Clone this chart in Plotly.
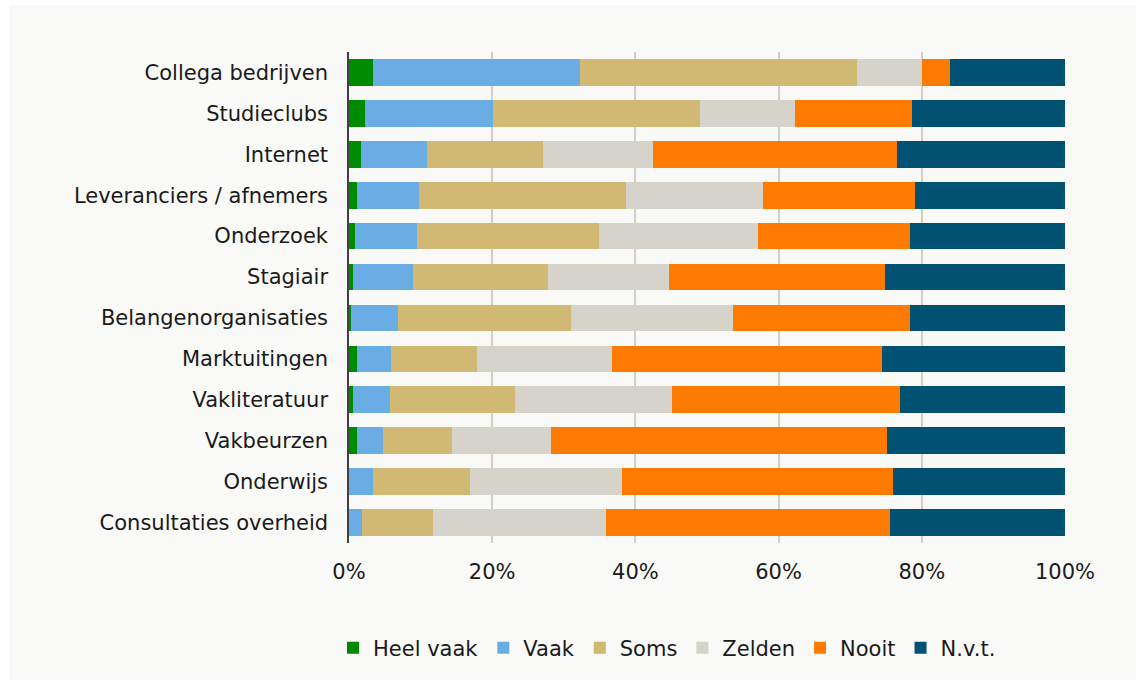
import plotly.graph_objects as go

categories = ["Collega bedrijven", "Studieclubs", "Internet", "Leveranciers / afnemers",
              "Onderzoek", "Stagiair", "Belangenorganisaties", "Marktuitingen",
              "Vakliteratuur", "Vakbeurzen", "Onderwijs", "Consultaties overheid"]

heel_vaak = [3.3, 2.2, 1.7, 1.1, 0.9, 0.5, 0.3, 1.1, 0.5, 1.1, 0.0, 0.0]
vaak      = [29.0, 17.9, 9.2, 8.7, 8.6, 8.4, 6.6, 4.7, 5.2, 3.6, 3.3, 1.8]
soms      = [38.6, 28.9, 16.2, 28.9, 25.4, 18.9, 24.1, 12.1, 17.5, 9.7, 13.6, 10.0]
zelden    = [9.1, 13.3, 15.4, 19.1, 22.2, 16.9, 22.7, 18.9, 21.9, 13.8, 21.2, 24.1]
nooit     = [3.9, 16.3, 34.1, 21.3, 21.2, 30.2, 24.6, 37.6, 31.9, 47.0, 37.9, 39.7]
nvt       = [16.1, 21.4, 23.4, 20.9, 21.7, 25.1, 21.7, 25.6, 23.0, 24.8, 24.0, 24.4]

series_names = ["Heel vaak", "Vaak", "Soms", "Zelden", "Nooit", "N.v.t."]
series_values = [heel_vaak, vaak, soms, zelden, nooit, nvt]
colors = ["#008a00", "#6aade4", "#d1b974", "#d6d3cb", "#ff7a00", "#005172"]

x_ticks = [0, 20, 40, 60, 80, 100]
x_tick_labels = ["0%", "20%", "40%", "60%", "80%", "100%"]

fig = go.Figure()
for name, vals, col in zip(series_names, series_values, colors):
    fig.add_trace(go.Bar(
        y=categories, x=vals, name=name, orientation="h",
        marker=dict(color=col, line=dict(width=0)),
        hovertemplate="%{y}: %{x}%<extra>" + name + "</extra>",
    ))

W, H = 1136, 681
ml, mr, mt, mb = 349, 71, 52, 138
pw, ph = W - ml - mr, H - mt - mb

def px_to_paper_x(px):
    return (px - ml) / pw

def px_to_paper_y(py):
    return (H - mb - py) / ph

fig.add_shape(type="rect", xref="paper", yref="paper", layer="below",
              x0=px_to_paper_x(10), x1=px_to_paper_x(1136),
              y0=px_to_paper_y(680), y1=px_to_paper_y(5),
              fillcolor="#f9f9f7", line=dict(width=0))

font_family = "DejaVu Sans, Verdana, sans-serif"

fig.update_layout(
    width=W, height=H,
    barmode="stack",
    bargap=0.348,
    paper_bgcolor="#ffffff",
    plot_bgcolor="#f9f9f7",
    margin=dict(l=ml, r=mr, t=mt, b=mb, pad=0),
    font=dict(family=font_family, size=21, color="#1a1a1a"),
    showlegend=True,
    legend=dict(orientation="h", x=px_to_paper_x(333), xanchor="left",
                y=px_to_paper_y(648), yanchor="middle",
                font=dict(family=font_family, size=21, color="#1a1a1a"),
                bgcolor="rgba(0,0,0,0)", traceorder="normal", itemclick=False,
                tracegroupgap=0),
    xaxis=dict(range=[0, 100], tickvals=x_ticks, ticktext=x_tick_labels,
               showgrid=True, gridcolor="#d2cec8", gridwidth=1.5,
               zeroline=False, showline=False, ticks="",
               ticklabelstandoff=14, fixedrange=True),
    yaxis=dict(autorange="reversed", showgrid=False, zeroline=False,
               showline=True, linecolor="#404040", linewidth=1.5,
               ticks="", ticklabelstandoff=15, fixedrange=True),
)

fig.write_html("out.html", config={"displayModeBar": False},
               post_script="document.body.style.margin='0';document.body.style.padding='0';")
